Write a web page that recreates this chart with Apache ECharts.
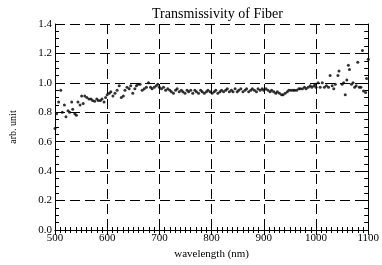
<!DOCTYPE html>
<html>
<head>
<meta charset="utf-8">
<script src="https://cdn.jsdelivr.net/npm/echarts@6/dist/echarts.min.js"></script>
<style>
  html, body { margin: 0; padding: 0; background: #fff; }
  #chart { width: 382px; height: 265px; }
</style>
</head>
<body>
<div id="chart"></div>
<script>
// wavelength (nm) of each sample
var wavelength = [
  500, 503, 507, 511, 514, 518, 521, 525, 528, 532, 534, 538, 541, 544, 548, 551, 554, 557,
  561, 565, 569, 572, 576, 580, 583, 587, 590, 594, 597, 600, 604, 607, 611, 615, 619, 623,
  627, 631, 634, 638, 642, 645, 649, 653, 656, 659, 663, 667, 671, 675, 679, 683, 686, 690,
  694, 697, 700, 704, 708, 712, 716, 720, 723, 727, 731, 734, 738, 742, 745, 749, 753, 756,
  760, 764, 768, 771, 775, 779, 782, 786, 790, 793, 797, 801, 805, 808, 812, 816, 819, 823,
  827, 830, 834, 838, 841, 845, 849, 852, 856, 860, 864, 867, 871, 875, 878, 882, 886, 889,
  893, 897, 900, 904, 908, 912, 915, 919, 923, 926, 930, 934, 937, 941, 945, 948, 952, 956,
  959, 963, 967, 970, 974, 978, 981, 985, 989, 992, 996, 999,
  1000, 1004, 1008, 1012, 1016, 1020, 1024, 1027, 1031, 1034, 1037, 1042, 1044, 1050, 1053,
  1056, 1059, 1062, 1064, 1068, 1071, 1074, 1077, 1080, 1083, 1086, 1089, 1091, 1095, 1097, 1100
];
// transmissivity (arb. unit)
var transmissivity = [
  0.69, 0.79, 0.87, 0.95, 0.80, 0.85, 0.77, 0.81, 0.80, 0.87, 0.82, 0.79, 0.78, 0.87, 0.85, 0.91, 0.86, 0.91,
  0.90, 0.89, 0.89, 0.88, 0.875, 0.89, 0.88, 0.88, 0.89, 0.87, 0.90, 0.92, 0.93, 0.94, 0.91, 0.93, 0.95, 0.98,
  0.90, 0.91, 0.95, 0.97, 0.96, 0.98, 0.93, 0.96, 0.98, 0.99, 0.99, 0.95, 0.96, 0.97, 1.00, 0.97, 0.96, 0.97,
  0.98, 0.99, 0.97, 0.96, 0.97, 0.95, 0.96, 0.95, 0.94, 0.93, 0.95, 0.96, 0.94, 0.95, 0.94, 0.93, 0.95, 0.94,
  0.95, 0.93, 0.95, 0.94, 0.93, 0.95, 0.94, 0.93, 0.94, 0.95, 0.94, 0.93, 0.94, 0.95, 0.93, 0.94, 0.95, 0.94,
  0.95, 0.96, 0.94, 0.95, 0.94, 0.96, 0.94, 0.95, 0.96, 0.94, 0.95, 0.96, 0.94, 0.95, 0.96, 0.95, 0.94, 0.96,
  0.95, 0.96, 0.95, 0.96, 0.95, 0.94, 0.95, 0.94, 0.93, 0.94, 0.93, 0.92, 0.92, 0.93, 0.94, 0.95, 0.95, 0.95,
  0.95, 0.95, 0.96, 0.96, 0.96, 0.97, 0.96, 0.97, 0.98, 0.97, 0.98, 0.99,
  0.97, 1.00, 0.97, 1.00, 0.97, 0.98, 0.97, 1.05, 0.98, 0.96, 0.99, 1.05, 1.08, 0.99, 1.00,
  0.92, 1.02, 1.12, 1.09, 0.99, 1.00, 0.97, 0.98, 1.14, 0.97, 0.97, 1.22, 0.945, 0.935, 1.03, 1.16
];
var xTicks = [500, 600, 700, 800, 900, 1000, 1100];
var yTicks = [0.0, 0.2, 0.4, 0.6, 0.8, 1.0, 1.2, 1.4];

var points = [];
for (var i = 0; i < wavelength.length; i++) {
  points.push([wavelength[i], transmissivity[i]]);
}

var serif = 'Liberation Serif';
var ink = '#000';

var chart = echarts.init(document.getElementById('chart'));
chart.setOption({
  animation: false,
  backgroundColor: '#fff',
  title: {
    text: 'Transmissivity of Fiber',
    left: 147,
    top: 2,
    textStyle: { fontFamily: serif, fontSize: 14, fontWeight: 'normal', color: ink }
  },
  grid: { left: 52, right: 10, top: 24, bottom: 28 },
  xAxis: [{
    type: 'value',
    min: xTicks[0],
    max: xTicks[xTicks.length - 1],
    interval: 100,
    name: 'wavelength (nm)',
    nameLocation: 'middle',
    nameGap: 19,
    nameTextStyle: { fontFamily: serif, fontSize: 11, color: ink },
    axisLine: { show: true, lineStyle: { color: ink, width: 1 } },
    axisTick: { show: true, inside: true, length: 5, lineStyle: { color: ink } },
    minorTick: { show: true, splitNumber: 10, length: 3, lineStyle: { color: ink } },
    axisLabel: {
      fontFamily: serif, fontSize: 11, color: ink, margin: 3,
      formatter: function (v) { return String(v); }
    },
    splitLine: { show: true, lineStyle: { color: ink, type: [10, 5], width: 1 } }
  }, {
    type: 'value',
    position: 'top',
    min: xTicks[0],
    max: xTicks[xTicks.length - 1],
    interval: 100,
    axisLine: { show: true, lineStyle: { color: ink, width: 1 } },
    axisTick: { show: true, inside: true, length: 5, lineStyle: { color: ink } },
    minorTick: { show: true, splitNumber: 10, length: 3, lineStyle: { color: ink } },
    axisLabel: { show: false },
    splitLine: { show: false }
  }],
  yAxis: [{
    type: 'value',
    min: yTicks[0],
    max: yTicks[yTicks.length - 1],
    interval: 0.2,
    name: 'arb. unit',
    nameLocation: 'middle',
    nameGap: 37,
    nameTextStyle: { fontFamily: serif, fontSize: 10, color: ink },
    axisLine: { show: true, lineStyle: { color: ink, width: 1 } },
    axisTick: { show: true, inside: true, length: 7, lineStyle: { color: ink } },
    minorTick: { show: true, splitNumber: 4, length: 4, lineStyle: { color: ink } },
    axisLabel: {
      fontFamily: serif, fontSize: 11, color: ink, margin: 3,
      formatter: function (v) { return v.toFixed(1); }
    },
    splitLine: { show: true, lineStyle: { color: ink, type: [10, 5], width: 1 } }
  }, {
    type: 'value',
    position: 'right',
    min: yTicks[0],
    max: yTicks[yTicks.length - 1],
    interval: 0.2,
    axisLine: { show: true, lineStyle: { color: ink, width: 1 } },
    axisTick: { show: true, inside: true, length: 7, lineStyle: { color: ink } },
    minorTick: { show: true, splitNumber: 4, length: 4, lineStyle: { color: ink } },
    axisLabel: { show: false },
    splitLine: { show: false }
  }],
  series: [{
    type: 'scatter',
    data: points,
    symbol: 'circle',
    symbolSize: 3,
    itemStyle: { color: ink },
    silent: true
  }]
});
</script>
</body>
</html>
